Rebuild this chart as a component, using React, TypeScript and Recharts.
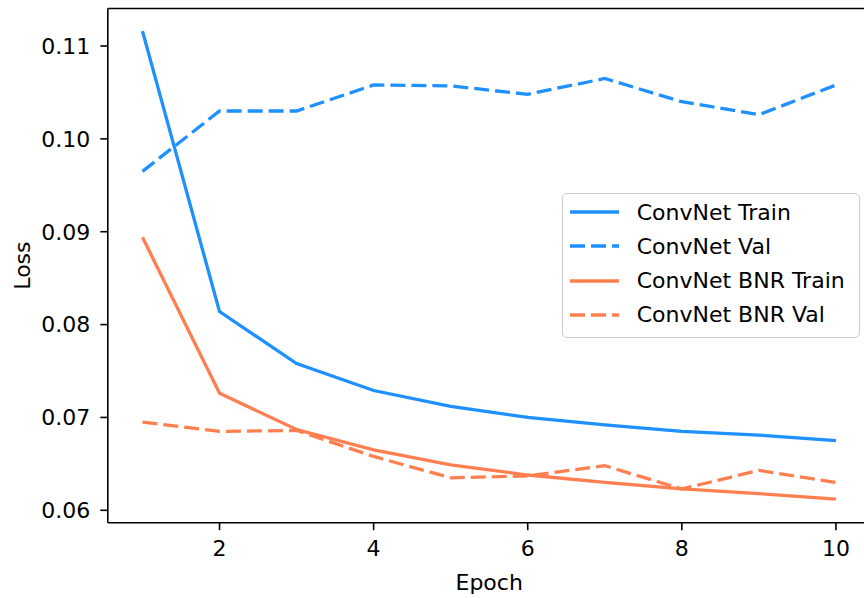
import React from 'react';
import { LineChart, Line, XAxis, YAxis, Legend, ReferenceLine } from 'recharts';

const epochs = [1, 2, 3, 4, 5, 6, 7, 8, 9, 10];
const convTrain = [0.1116, 0.0814, 0.0758, 0.0729, 0.0712, 0.07, 0.0692, 0.0685, 0.0681, 0.0675];
const convVal = [0.0965, 0.103, 0.103, 0.1058, 0.1057, 0.1048, 0.1065, 0.104, 0.1026, 0.1058];
const bnrTrain = [0.0894, 0.0726, 0.0687, 0.0665, 0.0649, 0.0638, 0.063, 0.0623, 0.0618, 0.0612];
const bnrVal = [0.0695, 0.0685, 0.0686, 0.0658, 0.0635, 0.0637, 0.0648, 0.0623, 0.0643, 0.063];
const seriesNames = ['ConvNet Train', 'ConvNet Val', 'ConvNet BNR Train', 'ConvNet BNR Val'];
const xTicks = [2, 4, 6, 8, 10];
const yTicks = [0.06, 0.07, 0.08, 0.09, 0.1, 0.11];

const data = epochs.map((epoch, i) => ({
  epoch,
  convTrain: convTrain[i],
  convVal: convVal[i],
  bnrTrain: bnrTrain[i],
  bnrVal: bnrVal[i],
}));

const font = '"DejaVu Sans", sans-serif';
const blue = '#1e90ff';
const coral = '#ff7f50';
const dash = '15 6';
const lineWidth = 3.3;
const yMin = 0.058665;
const yMax = 0.114038;
const axisStyle = { stroke: '#000', strokeWidth: 1.6 };

const renderLegend = (props: any) => {
  const payload = [...(props.payload || [])].sort(
    (a: any, b: any) => seriesNames.indexOf(a.value) - seriesNames.indexOf(b.value)
  );
  return (
    <div
      style={{
        width: 298,
        height: 145,
        boxSizing: 'border-box',
        border: '1.3px solid #cccccc',
        borderRadius: 5,
        background: 'rgba(255,255,255,0.8)',
        paddingTop: 1.5,
        fontFamily: font,
        fontSize: 22,
        color: '#000',
      }}
    >
      {payload.map((entry: any) => (
        <div key={entry.value} style={{ display: 'flex', alignItems: 'center', height: 34.2 }}>
          <svg width={74} height={34} style={{ flex: 'none' }}>
            <line
              x1={7}
              x2={56}
              y1={17}
              y2={17}
              stroke={entry.color}
              strokeWidth={lineWidth}
              strokeDasharray={entry.payload?.strokeDasharray}
            />
          </svg>
          <span style={{ whiteSpace: 'nowrap' }}>{entry.value}</span>
        </div>
      ))}
    </div>
  );
};

const renderYLabel = (props: any) => {
  const vb = props.viewBox || { y: 8.5, height: 514 };
  const cy = vb.y + vb.height / 2;
  return (
    <text x={30} y={cy} transform={`rotate(-90 30 ${cy})`} textAnchor="middle" fill="#000" fontSize={22} fontFamily={font}>
      Loss
    </text>
  );
};

const renderXLabel = (props: any) => {
  const vb = props.viewBox || { x: 107.8, width: 763 };
  const cx = vb.x + vb.width / 2;
  return (
    <text x={cx} y={590} textAnchor="middle" fill="#000" fontSize={22} fontFamily={font}>
      Epoch
    </text>
  );
};

export default function App() {
  return (
    <div style={{ position: 'absolute', left: 0, top: 0, width: 864, height: 598, overflow: 'hidden', background: '#fff' }}>
      <LineChart width={880} height={598} data={data} margin={{ top: 8.5, right: 9.4, bottom: 0, left: 0 }}>
        <XAxis
          dataKey="epoch"
          type="number"
          domain={[0.55, 10.45]}
          ticks={xTicks}
          allowDataOverflow
          height={75.3}
          tickSize={7.5}
          tickMargin={10}
          tick={{ fill: '#000', fontSize: 22, fontFamily: font }}
          tickLine={axisStyle}
          axisLine={axisStyle}
          label={renderXLabel}
        />
        <YAxis
          type="number"
          domain={[yMin, yMax]}
          ticks={yTicks}
          allowDataOverflow
          width={107.8}
          tickSize={7.5}
          tickMargin={10}
          tickFormatter={(v: number) => v.toFixed(2)}
          tick={{ fill: '#000', fontSize: 22, fontFamily: font }}
          tickLine={axisStyle}
          axisLine={axisStyle}
          label={renderYLabel}
        />
        <ReferenceLine y={yMax} stroke="#000" strokeWidth={1.6} ifOverflow="visible" />
        <Legend
          content={renderLegend}
          layout="horizontal"
          verticalAlign="middle"
          align="center"
          wrapperStyle={{ left: 561.7, top: 192.7, width: 298, height: 145 }}
        />
        <Line name={seriesNames[0]} dataKey="convTrain" type="linear" stroke={blue} strokeWidth={lineWidth} dot={false} activeDot={false} isAnimationActive={false} />
        <Line name={seriesNames[1]} dataKey="convVal" type="linear" stroke={blue} strokeWidth={lineWidth} strokeDasharray={dash} dot={false} activeDot={false} isAnimationActive={false} />
        <Line name={seriesNames[2]} dataKey="bnrTrain" type="linear" stroke={coral} strokeWidth={lineWidth} dot={false} activeDot={false} isAnimationActive={false} />
        <Line name={seriesNames[3]} dataKey="bnrVal" type="linear" stroke={coral} strokeWidth={lineWidth} strokeDasharray={dash} dot={false} activeDot={false} isAnimationActive={false} />
      </LineChart>
    </div>
  );
}
